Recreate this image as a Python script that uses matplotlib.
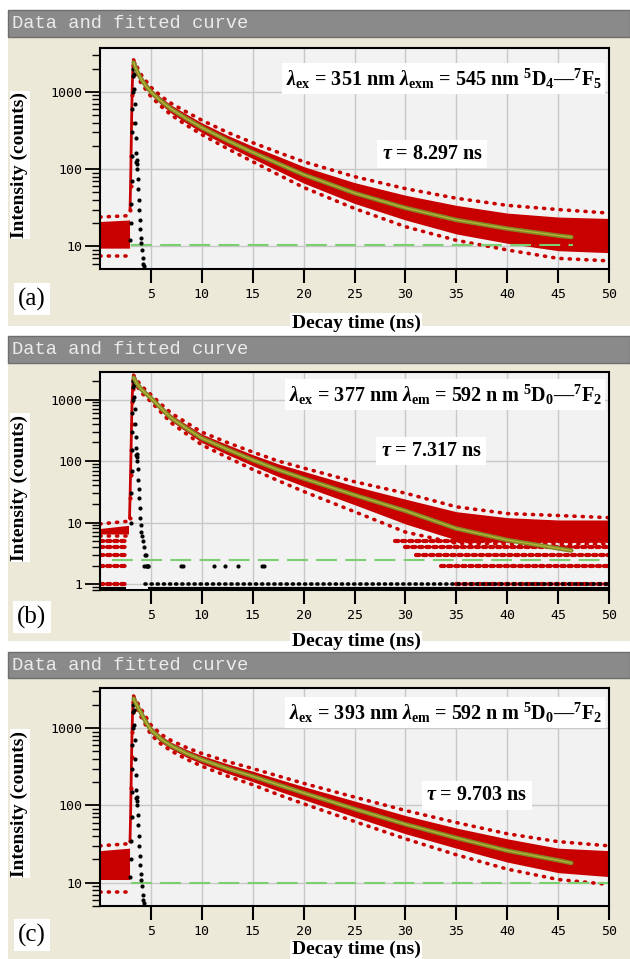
import numpy as np
import matplotlib
matplotlib.use("Agg")
import matplotlib.pyplot as plt
from matplotlib.patches import Rectangle

plt.rcParams['mathtext.fontset'] = 'custom'
plt.rcParams['mathtext.rm'] = 'Liberation Serif:bold'
plt.rcParams['mathtext.it'] = 'Liberation Serif:italic:bold'
plt.rcParams['mathtext.bf'] = 'Liberation Serif:bold'

# ---------------- data ----------------
xticks = [5, 10, 15, 20, 25, 30, 35, 40, 45, 50]
panel_labels = ['(a)', '(b)', '(c)']
title_bar = 'Data and fitted curve'
lam_texts = [
    r'$\mathit{\lambda}_{\mathbf{ex}}$ = 351 nm $\mathit{\lambda}_{\mathbf{exm}}$ = 545 nm $^{\mathbf{5}}\mathbf{D}_{\mathbf{4}}$—$^{\mathbf{7}}\mathbf{F}_{\mathbf{5}}$',
    r'$\mathit{\lambda}_{\mathbf{ex}}$ = 377 nm $\mathit{\lambda}_{\mathbf{em}}$ = 592 n m $^{\mathbf{5}}\mathbf{D}_{\mathbf{0}}$—$^{\mathbf{7}}\mathbf{F}_{\mathbf{2}}$',
    r'$\mathit{\lambda}_{\mathbf{ex}}$ = 393 nm $\mathit{\lambda}_{\mathbf{em}}$ = 592 n m $^{\mathbf{5}}\mathbf{D}_{\mathbf{0}}$—$^{\mathbf{7}}\mathbf{F}_{\mathbf{2}}$',
]
tau_texts = [r'$\mathit{\tau}$ = 8.297 ns', r'$\mathit{\tau}$ = 7.317 ns', r'$\mathit{\tau}$ = 9.703 ns']
ylims = [(5.1, 3700), (0.8, 2800), (5.0, 3300)]
yticks = [[10, 100, 1000], [1, 10, 100, 1000], [10, 100, 1000]]

# decay band sample times
t_band = [3.3, 4, 5, 6, 7, 8.5, 10, 12.5, 15, 17.5, 20, 25, 30, 35, 40, 45, 50]
t_fit = [3.3, 3.6, 4.0, 4.5, 5, 6, 7, 8.5, 10, 12.5, 15, 17.5, 20, 25, 30, 35, 40, 45, 46.3]

# panel (a)
fit_a = [2400, 1900, 1500, 1200, 1000, 760, 600, 450, 345, 235, 165, 118, 85, 49, 31.5, 22, 17, 13.8, 13.2]
up_a = [2520, 1630, 1100, 845, 675, 515, 398, 275, 198, 147, 108, 67, 46, 34, 27, 24, 23]
lo_a = [2230, 1380, 915, 685, 530, 393, 298, 200, 137, 95, 66, 36, 22, 14.5, 11, 8.8, 8.3]
oup_a = [2600, 1700, 1150, 880, 710, 550, 430, 300, 220, 165, 125, 80, 56, 42, 34, 30, 27]
olo_a = [2150, 1320, 870, 650, 500, 370, 280, 185, 125, 85, 58, 31, 18, 12, 9, 7, 6.5]
pre_t_a = [0.0, 2.9]
pre_lo_a = [9.5, 9.5]
pre_up_a = [21, 22]
pre_olo_a = [7.5, 7.5]
pre_oup_a = [24, 25]
rise_t_a = [2.95, 3.0, 3.05, 3.1, 3.15, 3.2, 3.25, 3.3]
rise_y_a = [30, 60, 150, 400, 900, 1600, 2200, 2400]
irf_t_a = [2.95, 3.0, 3.05, 3.1, 3.1, 3.15, 3.15, 3.2, 3.2, 3.25, 3.3, 3.35, 3.4, 3.45, 3.5, 3.5,
           3.55, 3.6, 3.6, 3.65, 3.7, 3.75, 3.8, 3.85, 3.9, 3.95, 4.0, 4.05, 4.1, 4.2, 4.25, 4.3]
irf_y_a = [12, 20, 35, 70, 150, 300, 600, 1000, 1600, 2000, 1700, 1100, 700, 400, 250, 160,
           125, 115, 130, 100, 75, 55, 40, 30, 22, 17, 13, 11, 9, 7, 6, 5.5]
bg_a = (10.3, 3.0, 46.5)

# panel (b)
fit_b = [2270, 1850, 1500, 1250, 1060, 720, 500, 340, 235, 155, 104, 72, 52, 28, 15.5, 8, 5.2, 3.8, 3.5]
up_b = [2400, 1620, 1150, 800, 565, 392, 275, 185, 127, 90, 68, 39, 24, 15, 12, 11, 11]
lo_b = [2120, 1380, 970, 650, 445, 298, 200, 128, 84, 56, 39, 19.5, 9.5, 5.2, 4.8, 4.8, 4.8]
oup_b = [2480, 1700, 1200, 840, 600, 420, 295, 200, 140, 100, 77, 46, 30, 18, 14, 13, 12]
olo_b = [2050, 1320, 920, 620, 415, 275, 183, 115, 73, 48, 32, 15, 7, 4.6, 4.5, 4.5, 4.5]
pre_t_b = [0.0, 2.8]
pre_lo_b = [6.5, 6.5]
pre_up_b = [8, 9]
pre_olo_b = [6, 6]
pre_oup_b = [9.5, 10.5]
rows_b = [1, 2, 3, 4, 5]                         # quantised count levels
rows_pre_b = [(0.0, 2.7)] * 5
rows_tail_b = [(35, 50), (33.5, 50), (31, 50), (30, 50), (29, 50)]
rise_t_b = [2.9, 2.95, 3.0, 3.05, 3.1, 3.15, 3.2, 3.25, 3.3]
rise_y_b = [12, 25, 60, 150, 400, 900, 1500, 2100, 2270]
irf_t_b = [3.0, 3.05, 3.1, 3.1, 3.15, 3.15, 3.2, 3.2, 3.25, 3.3, 3.35, 3.4, 3.45, 3.5, 3.5, 3.55,
           3.6, 3.6, 3.65, 3.7, 3.75, 3.8, 3.85, 3.9, 3.95, 4.0, 4.05, 4.1, 4.2, 4.3, 4.4, 4.5, 4.6, 4.7]
irf_y_b = [10, 30, 70, 150, 300, 600, 1000, 1600, 2000, 1700, 1100, 700, 400, 250, 160, 125,
           115, 130, 100, 75, 50, 35, 25, 17, 12, 9, 7, 6, 5, 4, 3, 3, 2, 2]
irf_one_b = (4.4, 50)
irf_two_t_b = [4.3, 4.5, 4.7, 8.0, 8.2, 11.2, 12.3, 13.6, 15.9, 16.1]
zero_b = [(0.0, 2.6), (4.7, 50)]
bg_b = (2.5, 1.2, 50)

# panel (c)
fit_c = [2400, 2000, 1600, 1200, 950, 720, 590, 470, 390, 300, 238, 185, 145, 90, 57, 38, 26, 19.5, 18]
up_c = [2520, 1730, 1050, 795, 655, 528, 442, 345, 277, 220, 175, 114, 74, 51, 37, 28, 26]
lo_c = [2250, 1470, 865, 650, 535, 420, 346, 260, 203, 154, 119, 71, 43, 28, 18.5, 13.5, 12]
oup_c = [2600, 1800, 1100, 830, 690, 560, 470, 370, 300, 240, 193, 128, 86, 60, 43, 34, 30]
olo_c = [2180, 1420, 820, 620, 505, 395, 322, 240, 185, 138, 105, 62, 37, 23, 15, 11, 9.5]
pre_t_c = [0.0, 2.9]
pre_lo_c = [11, 11]
pre_up_c = [26, 28]
pre_olo_c = [7.5, 7.5]
pre_oup_c = [30, 32]
rise_t_c = [2.95, 3.0, 3.05, 3.1, 3.15, 3.2, 3.25, 3.3]
rise_y_c = [35, 70, 170, 420, 900, 1600, 2200, 2400]
irf_t_c = irf_t_a
irf_y_c = [12, 20, 35, 70, 150, 300, 600, 1000, 1600, 2000, 1700, 1100, 700, 400, 250, 160,
           125, 115, 130, 100, 75, 55, 40, 30, 22, 17, 13, 11, 9, 7, 6, 5.5]
bg_c = (10.0, 3.0, 50)

panels = [
    dict(fit=fit_a, up=up_a, lo=lo_a, oup=oup_a, olo=olo_a, pre_t=pre_t_a, pre_lo=pre_lo_a,
         pre_up=pre_up_a, pre_olo=pre_olo_a, pre_oup=pre_oup_a, rise_t=rise_t_a, rise_y=rise_y_a,
         irf_t=irf_t_a, irf_y=irf_y_a, bg=bg_a),
    dict(fit=fit_b, up=up_b, lo=lo_b, oup=oup_b, olo=olo_b, pre_t=pre_t_b, pre_lo=pre_lo_b,
         pre_up=pre_up_b, pre_olo=pre_olo_b, pre_oup=pre_oup_b, rise_t=rise_t_b, rise_y=rise_y_b,
         irf_t=irf_t_b, irf_y=irf_y_b, bg=bg_b),
    dict(fit=fit_c, up=up_c, lo=lo_c, oup=oup_c, olo=olo_c, pre_t=pre_t_c, pre_lo=pre_lo_c,
         pre_up=pre_up_c, pre_olo=pre_olo_c, pre_oup=pre_oup_c, rise_t=rise_t_c, rise_y=rise_y_c,
         irf_t=irf_t_c, irf_y=irf_y_c, bg=bg_c),
]

# ---------------- layout (pixels) ----------------
W, H = 630, 959
bars = [(10, 37), (336, 363), (652, 678)]
beige = [(37, 326), (363, 641), (678, 959)]
boxes = [(48, 269), (372, 590), (688, 906)]
lam_y = [0.862, 0.895, 0.887]
tau_pos = [(0.653, 0.521), (0.651, 0.637), (0.74, 0.507)]
lab_y = [299, 617, 935]
xlab_y = [-0.205, -0.195, -0.16]

RED = '#c80000'
FIT = '#83862a'

fig = plt.figure(figsize=(W / 100, H / 100), dpi=100)
fig.patch.set_facecolor('white')


def frect(x0, y0, x1, y1, **kw):
    fig.patches.append(Rectangle((x0 / W, 1 - y1 / H), (x1 - x0) / W, (y1 - y0) / H,
                                 transform=fig.transFigure, zorder=-10, **kw))


for i, p in enumerate(panels):
    by0, by1 = bars[i]
    gy0, gy1 = beige[i]
    frect(8, gy0, W, gy1, facecolor='#ece9d8', edgecolor='none')
    frect(8, by0, W, by1, facecolor='#8a8a8a', edgecolor='#6e6e6e', lw=1)
    fig.text(12 / W, 1 - ((by0 + by1) / 2) / H, title_bar, family='Liberation Mono',
             fontsize=13.5, color='#ebebeb', va='center', ha='left')

    ay0, ay1 = boxes[i]
    ax = fig.add_axes([100 / W, 1 - ay1 / H, (609 - 100) / W, (ay1 - ay0) / H])
    ax.set_facecolor('#f2f2f2')
    ax.set_yscale('log')
    ax.set_xlim(0, 50)
    ax.set_ylim(*ylims[i])
    ax.set_xticks(xticks)
    ax.set_xticklabels([str(v) for v in xticks], family='DejaVu Sans Mono', fontsize=9.5)
    ax.set_yticks(yticks[i])
    ax.set_yticklabels([str(v) for v in yticks[i]], family='DejaVu Sans Mono', fontsize=9.5)
    ax.grid(True, which='major', color='#c8c8c8', lw=1, zorder=0)
    ax.tick_params(axis='x', direction='out', length=10, width=1.5, pad=4)
    ax.tick_params(axis='y', which='major', direction='out', length=11, width=1.3, pad=2)
    ax.tick_params(axis='y', which='minor', direction='out', length=6, width=1.0)
    ax.yaxis.set_minor_formatter(matplotlib.ticker.NullFormatter())
    for s in ax.spines.values():
        s.set_linewidth(1.5)
        s.set_color('black')

    dot = dict(color=RED, lw=2.6, ls=(0, (0.3, 2.0)), dash_capstyle='round', zorder=2)
    # decay data band (dense core) with sparse outer points
    ax.fill_between(t_band, p['lo'], p['up'], color=RED, lw=0, zorder=2)
    ax.plot(t_band, p['oup'], **dot)
    ax.plot(t_band, p['olo'], **dot)
    # pre-peak background band
    ax.fill_between(p['pre_t'], p['pre_lo'], p['pre_up'], color=RED, lw=0, zorder=2)
    ax.plot(p['pre_t'], p['pre_oup'], **dot)
    ax.plot(p['pre_t'], p['pre_olo'], **dot)
    # rising edge
    ax.plot(p['rise_t'], p['rise_y'], color=RED, lw=2, marker='o', ms=3, mew=0, zorder=3)

    if i == 1:
        for lev, pre, tail in zip(rows_b, rows_pre_b, rows_tail_b):
            rowdot = dict(color=RED, lw=3, ls=(0, (0.8, 0.9)), dash_capstyle='round', zorder=2)
            ax.plot(pre, [lev, lev], **rowdot)
            ax.plot(tail, [lev, lev], **rowdot)
        ax.plot(irf_one_b, [1, 1], color='black', lw=2.6, ls=(0, (0.3, 1.4)),
                dash_capstyle='round', zorder=3)
        ax.plot(irf_two_t_b, [2] * len(irf_two_t_b), 'o', color='black', ms=3, mew=0, zorder=3)
        for seg in zero_b:
            ax.plot(seg, [0.84, 0.84], color='black', lw=3, zorder=3, solid_capstyle='butt')

    # instrument response (black)
    ax.plot(p['irf_t'], p['irf_y'], 'o', color='black', ms=3, mew=0, zorder=3)
    # background level
    lev, t0, t1 = p['bg']
    ax.plot([t0, t1], [lev, lev], color='#7ccf6e', lw=1.5, ls=(0, (10, 4)), zorder=2.5)
    # fitted curve
    ax.plot(t_fit, p['fit'], color=FIT, lw=3.2, zorder=4, solid_capstyle='round')
    ax.plot(t_fit, p['fit'], color='#b3b530', lw=1, zorder=4.1)

    ax.text(0.986, lam_y[i], lam_texts[i], transform=ax.transAxes, ha='right', va='center',
            family='Liberation Serif', fontweight='bold', fontsize=14.5, zorder=6,
            bbox=dict(facecolor='white', edgecolor='none', pad=2.5))
    ax.text(tau_pos[i][0], tau_pos[i][1], tau_texts[i], transform=ax.transAxes, ha='center',
            va='center', family='Liberation Serif', fontweight='bold', fontsize=14.5, zorder=6,
            bbox=dict(facecolor='white', edgecolor='none', pad=3))

    ax.set_ylabel('Intensity (counts)', family='Liberation Serif', fontweight='bold', fontsize=14,
                  bbox=dict(facecolor='white', edgecolor='none', pad=1))
    ax.yaxis.set_label_coords(-0.141, 0.47)
    ax.set_xlabel('Decay time (ns)', family='Liberation Serif', fontweight='bold', fontsize=14,
                  bbox=dict(facecolor='white', edgecolor='none', pad=1))
    ax.xaxis.set_label_coords(0.503, xlab_y[i])

    fig.text(32 / W, 1 - lab_y[i] / H, panel_labels[i], family='Liberation Serif', fontsize=18,
             ha='center', va='center', bbox=dict(facecolor='white', edgecolor='none', pad=3))

fig.savefig('out.png', dpi=100, facecolor='white')
